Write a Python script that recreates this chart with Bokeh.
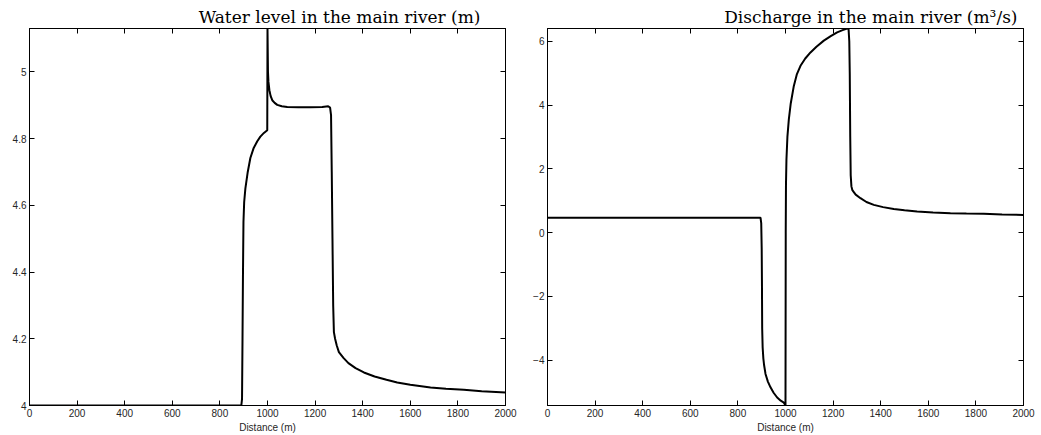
from bokeh.plotting import figure
from bokeh.layouts import row
from bokeh.models import Range1d, LinearAxis, FixedTicker
from bokeh.embed import file_html
from bokeh.resources import INLINE

# ---- data ----
distance_level = [0, 890, 893, 895, 897, 899, 902, 907, 917, 928, 942, 957, 970, 985, 999,
                  1000, 1002, 1004, 1008, 1013, 1020, 1030, 1041, 1060, 1083, 1130, 1180,
                  1230, 1255, 1263, 1267, 1270, 1273, 1276, 1279, 1284, 1291, 1300, 1320,
                  1340, 1370, 1405, 1450, 1500, 1545, 1600, 1685, 1750, 1825, 1900, 2000]
water_level = [4.0, 4.0, 4.02, 4.2, 4.4, 4.55, 4.61, 4.65, 4.70, 4.742, 4.772, 4.792, 4.806,
               4.817, 4.825, 5.13, 5.0, 4.97, 4.945, 4.928, 4.915, 4.907, 4.901, 4.897,
               4.895, 4.894, 4.894, 4.895, 4.897, 4.893, 4.87, 4.7, 4.5, 4.3, 4.22, 4.2,
               4.18, 4.16, 4.142, 4.127, 4.112, 4.099, 4.087, 4.077, 4.069, 4.062, 4.054,
               4.05, 4.047, 4.043, 4.039]

distance_q = [0, 895, 898, 900, 901, 902, 904, 907, 910, 916, 926, 937, 950, 965, 980, 993,
              1000, 1001, 1002, 1004, 1008, 1014, 1022, 1035, 1048, 1063, 1083, 1105, 1130,
              1161, 1190, 1217, 1240, 1259, 1265, 1268, 1270, 1272, 1274, 1277, 1281, 1287,
              1295, 1315, 1340, 1371, 1410, 1455, 1500, 1553, 1620, 1693, 1760, 1833, 1910, 2000]
discharge = [0.47, 0.47, 0.3, -0.5, -1.5, -3.0, -3.6, -3.95, -4.15, -4.43, -4.67, -4.85,
             -5.02, -5.17, -5.27, -5.33, -5.42, 0.0, 1.5, 2.3, 3.0, 3.55, 4.05, 4.6, 4.97,
             5.23, 5.46, 5.65, 5.83, 6.02, 6.16, 6.28, 6.35, 6.40, 6.38, 6.0, 5.0, 3.0, 1.8,
             1.45, 1.33, 1.27, 1.19, 1.08, 0.96, 0.87, 0.80, 0.74, 0.70, 0.66, 0.63, 0.61,
             0.60, 0.59, 0.57, 0.555]

x_ticks = [0, 200, 400, 600, 800, 1000, 1200, 1400, 1600, 1800, 2000]
x_tick_labels = [str(t) for t in x_ticks]
level_ticks = [4.0, 4.2, 4.4, 4.6, 4.8, 5.0]
level_tick_labels = ["4", "4.2", "4.4", "4.6", "4.8", "5"]
q_ticks = [-4, -2, 0, 2, 4, 6]
q_tick_labels = ["\u22124", "\u22122", "0", "2", "4", "6"]

title_level = "Water level in the main river (m)"
title_q = "Discharge in the main river (m\u00b3/s)"
x_label = "Distance (m)"

TICK_FONT = "Liberation Sans"
TICK_COLOR = "#262626"


def style_axis(ax, ticks, labels, show_labels=True):
    ax.ticker = FixedTicker(ticks=ticks)
    ax.major_tick_in = 5
    ax.major_tick_out = 0
    ax.minor_tick_line_color = None
    ax.major_tick_line_color = "black"
    ax.axis_line_color = "black"
    ax.major_label_text_font = TICK_FONT
    ax.major_label_text_color = TICK_COLOR
    ax.major_label_text_font_size = "10px"
    if show_labels:
        ax.major_label_overrides = dict(zip(ticks, labels))
        ax.major_label_standoff = 3
    else:
        ax.major_label_overrides = {t: "" for t in ticks}
        ax.major_label_standoff = 0


def make_panel(xs, ys, ylo, yhi, yticks, ylabels, title, width, left, right, title_offset):
    p = figure(width=width, height=435, output_backend="svg", toolbar_location=None,
               x_range=Range1d(0, 2000), y_range=Range1d(ylo, yhi),
               min_border_left=left, min_border_right=right,
               min_border_top=28, min_border_bottom=0)
    p.grid.visible = False
    p.outline_line_color = "black"
    p.outline_line_width = 1
    p.background_fill_color = "white"
    p.border_fill_color = "white"

    style_axis(p.xaxis[0], x_ticks, x_tick_labels)
    p.xaxis[0].axis_label = x_label
    p.xaxis[0].axis_label_text_font = TICK_FONT
    p.xaxis[0].axis_label_text_font_size = "10px"
    p.xaxis[0].axis_label_text_font_style = "normal"
    p.xaxis[0].axis_label_text_color = TICK_COLOR
    p.xaxis[0].axis_label_standoff = 2
    style_axis(p.yaxis[0], yticks, ylabels)

    top = LinearAxis()
    style_axis(top, x_ticks, x_tick_labels, show_labels=False)
    p.add_layout(top, "above")
    rt = LinearAxis()
    style_axis(rt, yticks, ylabels, show_labels=False)
    p.add_layout(rt, "right")

    p.title.text = title
    p.title.align = "right"
    p.title.text_font = "DejaVu Serif"
    p.title.text_font_size = "17px"
    p.title.text_font_style = "normal"
    p.title.text_color = "black"
    p.title.offset = title_offset
    p.title.standoff = 4

    p.line(xs, ys, line_color="black", line_width=2)
    return p


p1 = make_panel(distance_level, water_level, 4.0, 5.13, level_ticks, level_tick_labels,
                title_level, 520, 29, 15, 25)
p2 = make_panel(distance_q, discharge, -5.42, 6.40, q_ticks, q_tick_labels,
                title_q, 521, 27, 18, 6)

layout = row(p1, p2)
open("out.html", "w").write(file_html(layout, INLINE))
